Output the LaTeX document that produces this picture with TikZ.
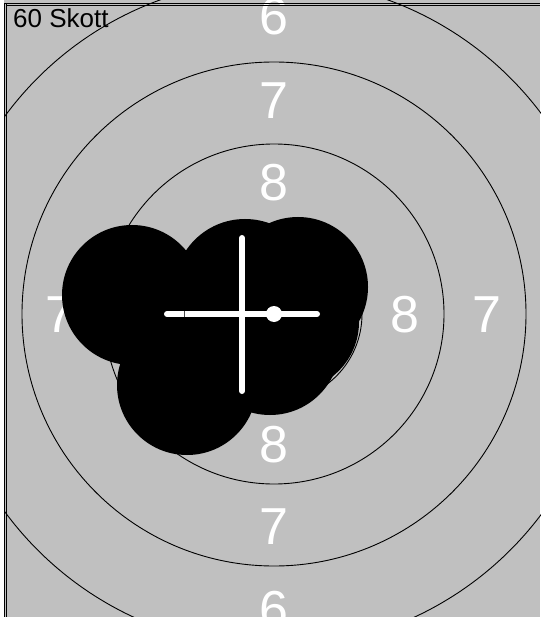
\documentclass[tikz,border=0pt]{standalone}
\usepackage{fontspec}
\setmainfont{Liberation Sans}
\definecolor{tgrey}{RGB}{192,192,192}
\tikzset{
  ring/.style={draw=black, line width=0.9pt},
  ringlabel/.style={text=white, inner sep=0pt, font=\fontsize{52}{60}\selectfont},
  hole/.style={fill=black},
  cross/.style={draw=white, line width=6pt, line cap=round}
}
\begin{document}
\begin{tikzpicture}[x=1pt,y=-1pt]
\useasboundingbox (0,0) rectangle (540,617);
\fill[tgrey] (0,0) rectangle (540,617);
% rings
\coordinate (c) at (274,314);
\foreach \r in {88,170,252,334,416} \draw[ring] (c) circle[radius=\r];
% labels
\node[ringlabel] (t8) at (274,183) {8};
\node[ringlabel] (t7) at (274,101) {7};
\node[ringlabel] (t6) at (274,17) {6};
\node[ringlabel] (r8) at (405,315) {8};
\node[ringlabel] (r7) at (487,315) {7};
\node[ringlabel] (l7) at (60,315) {7};
\node[ringlabel] (b8) at (274,445) {8};
\node[ringlabel] (b7) at (274,527) {7};
\node[ringlabel] (b6) at (274,610) {6};
% shot holes
\fill[hole] (132,295) circle[radius=70];
\fill[hole] (187,385) circle[radius=70];
\fill[hole] (245,290) circle[radius=71];
\fill[hole] (298,287) circle[radius=70];
\fill[hole] (270,345) circle[radius=70];
\fill[hole] (290,322) circle[radius=69];
\fill[hole] (210,320) circle[radius=60];
% crosshair
\draw[cross] (242,238) -- (242,391);
\draw[cross] (167,314) -- (317,314);
\draw[black!70, line width=0.8pt] (184,311) -- (184,317);
\fill[white] (c) circle[radius=8];
% frame
\fill[white] (0,0) rectangle (4,617);
\draw[black, line width=1pt] (4.5,3.5) -- (4.5,617);
\draw[black, line width=1pt] (6.5,3.5) -- (6.5,617);
\draw[black, line width=1pt] (4,3.5) -- (540,3.5);
\draw[black, line width=1pt] (6,5.5) -- (540,5.5);
\node[anchor=base west, inner sep=0pt, font=\fontsize{26}{30}\selectfont] (title) at (13,28) {60 Skott};
\end{tikzpicture}
\end{document}
